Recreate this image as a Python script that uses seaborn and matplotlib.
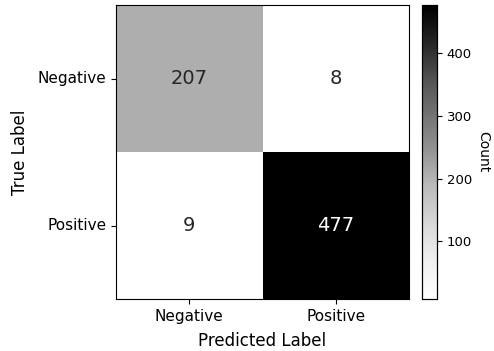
import matplotlib
matplotlib.use("Agg")
import matplotlib.pyplot as plt
import seaborn as sns
import pandas as pd

class_labels = ["Negative", "Positive"]
row_negative = [207, 8]
row_positive = [9, 477]

cm = pd.DataFrame([row_negative, row_positive], index=class_labels, columns=class_labels)

fig = plt.figure(figsize=(4.94, 3.51), dpi=100)
ax = fig.add_axes([116 / 494, 1 - 299 / 351, (409 - 116) / 494, (299 - 5) / 351])
cax = fig.add_axes([422 / 494, 1 - 299 / 351, (437 - 422) / 494, (299 - 5) / 351])

sns.heatmap(cm, annot=True, fmt="d", cmap="Greys", ax=ax, cbar_ax=cax,
            annot_kws={"fontsize": 14}, cbar_kws={"label": "Count"})

for side in ax.spines.values():
    side.set_visible(True)
    side.set_linewidth(0.8)
for side in cax.spines.values():
    side.set_visible(True)
    side.set_linewidth(0.8)

ax.set_xlabel("Predicted Label", fontsize=12, labelpad=6)
ax.set_ylabel("True Label", fontsize=12, labelpad=6)
ax.tick_params(axis="both", labelsize=11)
ax.set_yticklabels(class_labels, rotation=0)
ax.set_xticklabels(class_labels, rotation=0)
cax.tick_params(labelsize=9.5)
cax.set_ylabel("Count", rotation=270, labelpad=13, fontsize=10)

fig.savefig("out.png", dpi=100)
